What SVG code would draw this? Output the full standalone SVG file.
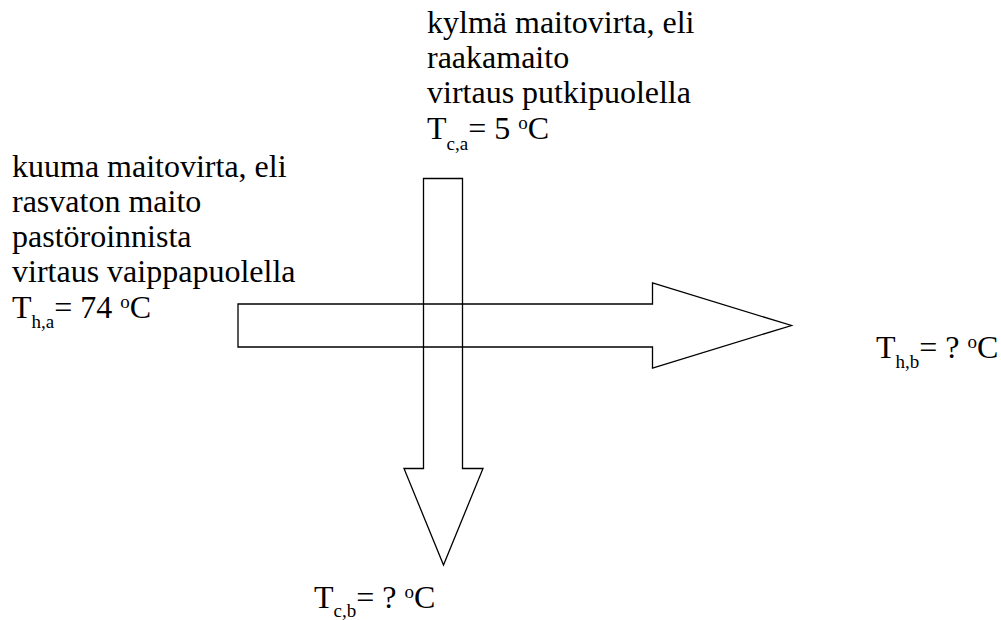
<svg xmlns="http://www.w3.org/2000/svg" width="1001" height="620" viewBox="0 0 1001 620">
<style>
.arrow{fill:none;stroke:#000;stroke-width:1.3;stroke-linejoin:miter}
.t{font-family:'Liberation Serif',serif;font-size:32px;fill:#000}
.s{font-size:19px}
</style>
<rect x="0" y="0" width="1001" height="620" fill="#fff"/>
<g id="connectors">
<polygon id="hot-flow" class="arrow" points="238,304 652.5,304 652.5,283 791.5,325.5 652.5,368 652.5,347 238,347"/>
<polygon id="cold-flow" class="arrow" points="423.5,178.5 462.5,178.5 462.5,468.5 483,468.5 443.5,565 404,468.5 423.5,468.5"/>
</g>
<g id="cold-inlet-label">
<text class="t" x="427" y="33">kylmä maitovirta, eli</text>
<text class="t" x="427" y="68">raakamaito</text>
<text class="t" x="427" y="103">virtaus putkipuolella</text>
<text class="t" x="427" y="139">T<tspan class="s" y="150">c,a</tspan><tspan y="139">= 5 </tspan><tspan class="s" y="129">o</tspan><tspan y="139">C</tspan></text>
</g>
<g id="hot-inlet-label">
<text class="t" x="12" y="177">kuuma maitovirta, eli</text>
<text class="t" x="12" y="212">rasvaton maito</text>
<text class="t" x="12" y="247">pastöroinnista</text>
<text class="t" x="12" y="282">virtaus vaippapuolella</text>
<text class="t" x="12" y="318">T<tspan class="s" y="328">h,a</tspan><tspan y="318">= 74 </tspan><tspan class="s" y="308">o</tspan><tspan y="318">C</tspan></text>
</g>
<g id="hot-outlet-label">
<text class="t" x="876" y="358">T<tspan class="s" y="368">h,b</tspan><tspan y="358">= ? </tspan><tspan class="s" y="348">o</tspan><tspan y="358">C</tspan></text>
</g>
<g id="cold-outlet-label">
<text class="t" x="314" y="608">T<tspan class="s" y="617">c,b</tspan><tspan y="608">= ? </tspan><tspan class="s" y="598">o</tspan><tspan y="608">C</tspan></text>
</g>
</svg>
